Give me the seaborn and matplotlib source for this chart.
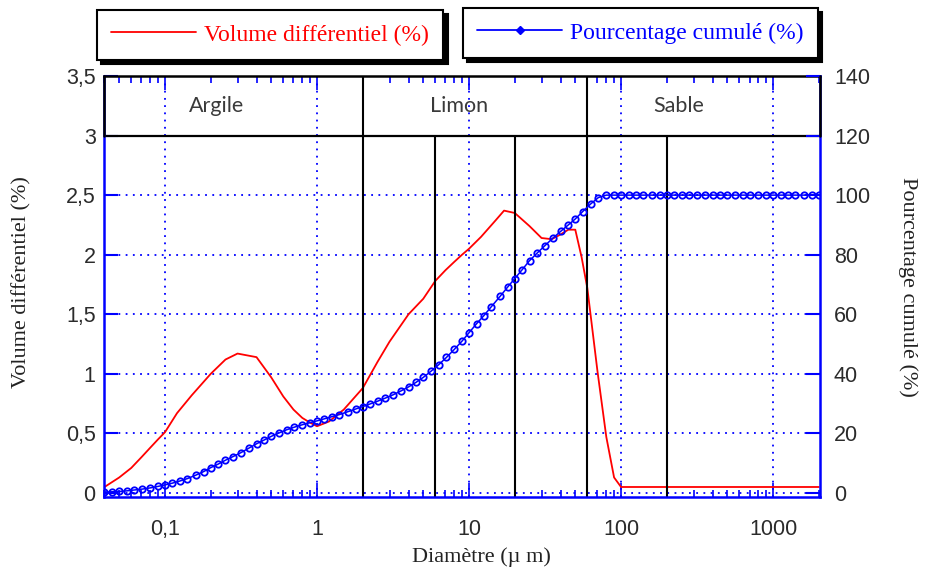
import numpy as np
import pandas as pd
import matplotlib
matplotlib.use('Agg')
import matplotlib.pyplot as plt
import seaborn as sns
from matplotlib.lines import Line2D
from matplotlib.ticker import FixedLocator, FixedFormatter, LogLocator, NullFormatter

# courbe volume différentiel (axe gauche)
diam_vol = [0.04, 0.05, 0.06, 0.07, 0.08, 0.09, 0.1, 0.12, 0.15, 0.2, 0.25, 0.3, 0.4, 0.5,
            0.6, 0.7, 0.8, 0.9, 1, 1.2, 1.5, 2, 2.5, 3, 4, 5, 6, 7, 8, 9, 10, 12, 15, 17,
            20, 25, 30, 35, 40, 45, 50, 55, 60, 70, 80, 90, 100, 120, 150, 200, 300, 500,
            700, 1000, 1500, 2000]
vol_diff = [0.05, 0.13, 0.21, 0.30, 0.38, 0.45, 0.51, 0.67, 0.82, 1.00, 1.12, 1.17, 1.14, 0.97,
            0.81, 0.70, 0.63, 0.59, 0.56, 0.60, 0.70, 0.88, 1.10, 1.27, 1.50, 1.63, 1.78, 1.87,
            1.94, 2.00, 2.05, 2.15, 2.29, 2.37, 2.35, 2.24, 2.14, 2.13, 2.17, 2.21, 2.21, 1.98,
            1.72, 1.02, 0.47, 0.13, 0.05, 0.05, 0.05, 0.05, 0.05, 0.05, 0.05, 0.05, 0.05, 0.05]

# courbe pourcentage cumulé (axe droit)
diam_cum = [0.04, 0.045, 0.05, 0.056, 0.063, 0.071, 0.08, 0.09,
            0.1, 0.112, 0.125, 0.14, 0.16, 0.18, 0.2, 0.224, 0.25, 0.28, 0.315, 0.355,
            0.4, 0.45, 0.5, 0.56, 0.63, 0.71, 0.8, 0.9,
            1, 1.12, 1.25, 1.4, 1.6, 1.8, 2, 2.24, 2.5, 2.8, 3.15, 3.55,
            4, 4.5, 5, 5.6, 6.3, 7.1, 8, 9,
            10, 11.2, 12.5, 14, 16, 18, 20, 22.4, 25, 28, 31.5, 35.5,
            40, 45, 50, 56, 63, 71, 80, 90,
            100, 112, 125, 140, 160, 180, 200, 224, 250, 280, 315, 355,
            400, 450, 500, 560, 630, 710, 800, 900,
            1000, 1120, 1250, 1400, 1600, 1800, 2000]
pct_cum = [0.3, 0.4, 0.5, 0.7, 1.0, 1.3, 1.7, 2.2,
           2.7, 3.3, 4.0, 4.8, 6.0, 7.2, 8.5, 9.7, 11.0, 12.2, 13.5, 15.0,
           16.5, 17.8, 19.0, 20.1, 21.2, 22.1, 22.9, 23.6,
           24.2, 24.9, 25.6, 26.3, 27.3, 28.2, 29.0, 29.9, 30.8, 31.8, 32.9, 34.2,
           35.6, 37.2, 38.8, 40.8, 43.0, 45.5, 48.2, 51.0,
           53.8, 56.8, 59.5, 62.5, 66.0, 69.2, 72.0, 75.0, 78.0, 80.5, 83.0, 85.5,
           87.8, 90.0, 92.0, 94.5, 97.0, 99.2, 100, 100,
           100, 100, 100, 100, 100, 100, 100, 100, 100, 100, 100, 100,
           100, 100, 100, 100, 100, 100, 100, 100,
           100, 100, 100, 100, 100, 100, 100]

x_ticks = [0.1, 1, 10, 100, 1000]
x_labels = ['0,1', '1', '10', '100', '1000']
y_ticks = [0, 0.5, 1, 1.5, 2, 2.5, 3, 3.5]
y_labels = ['0', '0,5', '1', '1,5', '2', '2,5', '3', '3,5']
y2_ticks = [0, 20, 40, 60, 80, 100, 120, 140]

limites_classes = [2, 60]
sous_classes = [6, 20, 200]
classes = ['Argile', 'Limon', 'Sable']
classes_x = [0.22, 8.6, 240]


def main():
    sns.set_theme(style='white')
    plt.rcParams['font.family'] = ['Liberation Sans', 'DejaVu Sans']

    fig = plt.figure(figsize=(9.25, 5.72), dpi=100)
    ax = fig.add_axes([104 / 925, 1 - 497 / 572, 716 / 925, 421 / 572])
    ax2 = ax.twinx()

    sns.lineplot(x=diam_vol, y=vol_diff, ax=ax, color='red', lw=1.3)
    sns.lineplot(x=diam_cum, y=pct_cum, ax=ax2, color='blue', lw=1.1, marker='o',
                 markersize=4.6, markerfacecolor='none', markeredgecolor='blue',
                 markeredgewidth=1.3)

    ax.set_xscale('log')
    ax.set_xlim(0.0397, 2036)
    ymin = -0.034
    ax.set_ylim(ymin, 3.5)
    ax2.set_ylim(ymin * 40, 140)
    f3 = (3 - ymin) / (3.5 - ymin)

    # grille bleue pointillée
    ax.grid(True, which='major', color='blue', ls=(0, (1, 3)), lw=1.3)
    ax2.grid(False)

    # bandeau des classes
    ax.axhline(3, color='black', lw=1.6)
    for x in limites_classes:
        ax.axvline(x, 0, 1, color='black', lw=1.5)
    for x in sous_classes:
        ax.axvline(x, 0, f3, color='black', lw=1.5)
    for lab, x in zip(classes, classes_x):
        ax.text(x, 3.25, lab, ha='center', va='center', fontsize=15.5,
                family=['Lato', 'DejaVu Sans'], color='#3a3a3a')

    # axes et graduations
    ax.xaxis.set_major_locator(FixedLocator(x_ticks))
    ax.xaxis.set_major_formatter(FixedFormatter(x_labels))
    ax.xaxis.set_minor_locator(LogLocator(base=10, subs=np.arange(2, 10)))
    ax.xaxis.set_minor_formatter(NullFormatter())
    ax.yaxis.set_major_locator(FixedLocator(y_ticks))
    ax.yaxis.set_major_formatter(FixedFormatter(y_labels))
    ax2.yaxis.set_major_locator(FixedLocator(y2_ticks))

    ax.tick_params(axis='x', which='both', direction='in', top=True, bottom=True,
                   color='blue', labelcolor='#2b2b2b', labelsize=15.5, pad=16, width=1.2)
    ax.tick_params(axis='x', which='major', length=10)
    ax.tick_params(axis='x', which='minor', length=5)
    ax.tick_params(axis='y', direction='in', left=True, length=10, width=1.5,
                   color='blue', labelcolor='#2b2b2b', labelsize=15.5, pad=6)
    ax2.tick_params(axis='y', direction='in', right=True, length=10, width=1.5,
                    color='blue', labelcolor='#2b2b2b', labelsize=15.5, pad=10)

    for s in ['left', 'bottom']:
        ax.spines[s].set_color('blue')
        ax.spines[s].set_linewidth(1.8)
    ax.spines['right'].set_visible(False)
    ax.spines['top'].set_color('black')
    ax.spines['top'].set_linewidth(1.8)
    for s in ['left', 'bottom', 'top']:
        ax2.spines[s].set_visible(False)
    ax2.spines['right'].set_color('blue')
    ax2.spines['right'].set_linewidth(1.8)
    # bords noirs du bandeau
    for xa in [0, 1]:
        ax2.plot([xa, xa], [f3, 1], transform=ax2.transAxes, color='black', lw=1.8,
                 clip_on=False, zorder=5)

    ax.set_ylabel('')
    ax2.set_ylabel('')
    serif = ['Liberation Serif', 'DejaVu Serif']
    fig.text(22 / 925, 1 - 282 / 572, 'Volume différentiel (%)', rotation=90,
             ha='center', va='center', fontsize=16, family=serif, color='#222222')
    fig.text(908 / 925, 1 - 287 / 572, 'Pourcentage cumulé (%)', rotation=270,
             ha='center', va='center', fontsize=16, family=serif, color='#222222')
    fig.text(481 / 925, 1 - 557 / 572, 'Diamètre (µ m)', ha='center', va='center',
             fontsize=16, family=serif, color='#222222')

    # légendes encadrées avec ombre
    h1 = Line2D([], [], color='red', lw=1.3)
    h2 = Line2D([], [], color='blue', lw=1.3, marker='D', markersize=4)
    ombre = {'ox': 3, 'oy': -3, 'facecolor': 'black', 'edgecolor': 'black', 'alpha': 1}
    for h, lab, col, pos in [(h1, 'Volume différentiel (%)', 'red', (97, 10)),
                             (h2, 'Pourcentage cumulé (%)', 'blue', (463, 8))]:
        leg = fig.legend([h], [lab], loc='upper left',
                         bbox_to_anchor=(pos[0] / 925, 1 - pos[1] / 572),
                         frameon=True, fancybox=False, shadow=ombre, framealpha=1,
                         edgecolor='black', labelcolor=col,
                         prop={'family': serif, 'size': 17},
                         handlelength=3.6, handletextpad=0.35, borderpad=0.6,
                         borderaxespad=0)
        leg.get_frame().set_linewidth(1.5)

    fig.savefig('out.png', dpi=100)


if __name__ == '__main__':
    main()
